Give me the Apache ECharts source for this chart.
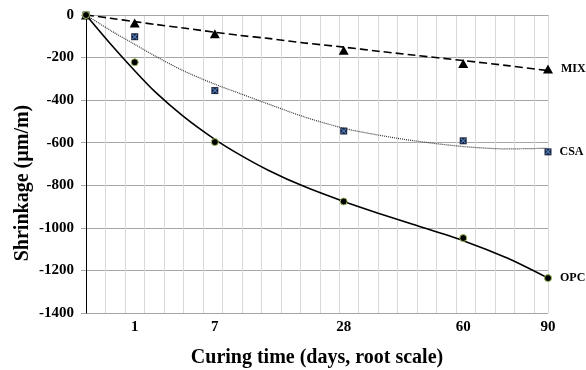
<!DOCTYPE html>
<html>
<head>
<meta charset="utf-8">
<script src="https://cdn.jsdelivr.net/npm/echarts@6/dist/echarts.min.js"></script>
<style>
  html, body { margin: 0; padding: 0; background: #fff; }
  #shrink { width: 586px; height: 370px; }
</style>
</head>
<body>
<div id="shrink"></div>
<script>
// measured days and shrinkage (µm/m)
const days = [0, 1, 7, 28, 60, 90];
const opcValues = [0, -222, -597, -876, -1048, -1236];
const csaValues = [0, -102, -355, -545, -591, -643];
const mixValues = [0, -38, -88, -166, -228, -254];

// trend lines
const trendDays = [0, 0.25, 1, 2, 4, 7, 10, 14, 20, 28, 36, 45, 60, 75, 90];
const opcTrend = [0, -135, -262, -360, -476, -584, -657, -729, -805, -876, -931, -983, -1060, -1143, -1236];
const csaTrend = [0, -72, -138, -192, -262, -325, -369, -418, -478, -532, -564, -590, -618, -629, -626];
const mixTrend = [0, -15, -31, -44, -61, -81, -96, -110, -131, -151, -170, -188, -214, -238, -261];

const tickDays = [1, 7, 28, 60, 90];
const yTicks = { min: -1400, max: 0, step: 200 };

const font = "'Liberation Serif', 'Times New Roman', serif";

// root scale: x is plotted as sqrt(days)
function pts(xs, ys) {
  return xs.map((d, i) => [Math.sqrt(d), ys[i]]);
}

function trend(name, ys, lineStyle) {
  return {
    name: name, type: 'line', data: pts(trendDays, ys),
    smooth: 0.3, showSymbol: false, silent: true,
    lineStyle: lineStyle
  };
}

function endLabel(text) {
  return {
    show: true, position: 'right', distance: 8,
    formatter: p => (p.dataIndex === days.length - 1 ? text : ''),
    color: '#000', fontFamily: font, fontWeight: 'bold', fontSize: 12
  };
}

const shrinkOption = {
  animation: false,
  grid: { left: 86, right: 38, top: 15, bottom: 57, outerBoundsMode: 'none', containLabel: false },
  xAxis: {
    type: 'value',
    min: 0,
    max: Math.sqrt(90),
    interval: 0.4,
    name: 'Curing time (days, root scale)',
    nameLocation: 'middle',
    nameGap: 35,
    nameTextStyle: { color: '#000', fontFamily: font, fontWeight: 'bold', fontSize: 20 },
    axisLine: { show: true, lineStyle: { color: '#a6a6a6' } },
    axisTick: { show: false },
    axisLabel: {
      customValues: tickDays.map(d => Math.sqrt(d)),
      formatter: v => String(Math.round(v * v)),
      margin: 7,
      color: '#000', fontFamily: font, fontWeight: 'bold', fontSize: 15
    },
    splitLine: { show: true, lineStyle: { color: '#d9d9d9', width: 1 } }
  },
  yAxis: {
    type: 'value',
    min: yTicks.min,
    max: yTicks.max,
    interval: yTicks.step,
    axisLine: { show: true, lineStyle: { color: '#000', width: 1 } },
    axisTick: { show: true, length: 5, lineStyle: { color: '#a6a6a6' } },
    axisLabel: {
      formatter: v => String(v),
      margin: 12, color: '#000', fontFamily: font, fontWeight: 'bold', fontSize: 15
    },
    splitLine: { show: true, lineStyle: { color: '#a6a6a6', width: 1 } }
  },
  graphic: [{
    type: 'text',
    x: 23, y: 183,
    rotation: Math.PI / 2,
    style: {
      text: 'Shrinkage (µm/m)',
      font: 'bold 20px ' + font,
      fill: '#000',
      textAlign: 'center',
      textVerticalAlign: 'middle'
    }
  }],
  series: [
    trend('MIX trend', mixTrend, { color: '#000', width: 1.6, type: [8, 4] }),
    trend('CSA trend', csaTrend, { color: '#333', width: 1.2, type: [1, 1] }),
    trend('OPC trend', opcTrend, { color: '#000', width: 1.6 }),
    {
      name: 'MIX', type: 'line', data: pts(days, mixValues),
      lineStyle: { width: 0 }, symbol: 'triangle', symbolSize: [10, 9],
      itemStyle: { color: '#000' }, label: endLabel('MIX')
    },
    {
      name: 'CSA', type: 'line', data: pts(days, csaValues),
      lineStyle: { width: 0 }, symbol: 'rect', symbolSize: 7,
      itemStyle: { color: '#1c2541' }, label: endLabel('CSA')
    },
    {
      name: 'CSA x', type: 'line', data: pts(days, csaValues),
      lineStyle: { width: 0 }, symbolSize: 5, silent: true,
      symbol: 'path://M0,0 L1.5,0 L5,3.5 L8.5,0 L10,0 L10,1.5 L6.5,5 L10,8.5 L10,10 L8.5,10 L5,6.5 L1.5,10 L0,10 L0,8.5 L3.5,5 L0,1.5 Z',
      itemStyle: { color: '#4f81bd' }
    },
    {
      name: 'OPC', type: 'line', data: pts(days, opcValues),
      lineStyle: { width: 0 }, symbol: 'circle', symbolSize: 7,
      itemStyle: { color: '#000', borderColor: '#9bbb59', borderWidth: 1 },
      label: endLabel('OPC')
    }
  ]
};

const shrinkChart = echarts.init(document.getElementById('shrink'));
shrinkChart.setOption(shrinkOption);
</script>
</body>
</html>
